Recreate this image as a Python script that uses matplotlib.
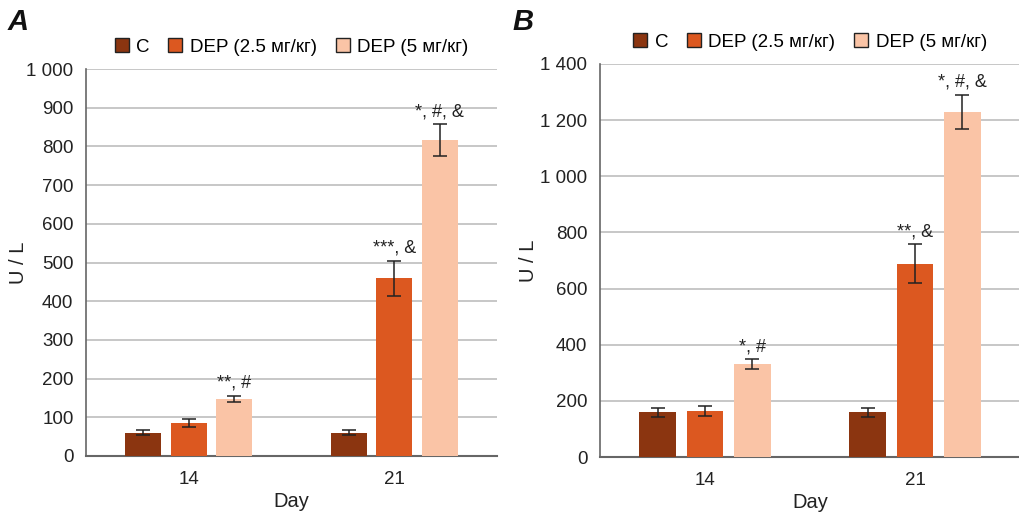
import matplotlib
matplotlib.use("Agg")
import matplotlib.pyplot as plt
from matplotlib.patches import Rectangle
import numpy as np

plt.rcParams['font.family'] = ['Liberation Sans', 'DejaVu Sans']

days = ["14", "21"]
series = ["C", "DEP (2.5 мг/кг)", "DEP (5 мг/кг)"]
colors = ["#8B3510", "#DC5820", "#FAC4A6"]

# Panel A
a_vals = [[60, 60], [86, 459], [148, 817]]
a_err = [[7, 7], [10, 46], [8, 41]]
a_notes = [["", ""], ["", "***, &"], ["**, #", "*, #, &"]]
a_ticks = [0, 100, 200, 300, 400, 500, 600, 700, 800, 900, 1000]
a_ticklabels = ["0", "100", "200", "300", "400", "500", "600", "700", "800", "900", "1 000"]

# Panel B
b_vals = [[160, 160], [163, 689], [330, 1230]]
b_err = [[16, 16], [17, 68], [18, 61]]
b_notes = [["", ""], ["", "**, &"], ["*, #", "*, #, &"]]
b_ticks = [0, 200, 400, 600, 800, 1000, 1200, 1400]
b_ticklabels = ["0", "200", "400", "600", "800", "1 000", "1 200", "1 400"]

fig = plt.figure(figsize=(10.2, 5.13), dpi=100)
axA = fig.add_axes([86/1020, 1-456/513, 411/1020, 387/513])
axB = fig.add_axes([600/1020, 1-457/513, 420/1020, 393/513])


def draw(ax, vals, errs, notes, ticks, ticklabels, ymax, step, note_off):
    x = np.arange(len(days))
    w = 0.176
    for i in range(3):
        pos = x + (i - 1) * step
        ax.bar(pos, vals[i], width=w, color=colors[i], zorder=3)
        ax.errorbar(pos, vals[i], yerr=errs[i], fmt='none', ecolor='#222222',
                    elinewidth=1.1, capsize=5, capthick=1.1, zorder=4)
        for j in range(len(days)):
            if notes[i][j]:
                ax.text(pos[j], vals[i][j] + errs[i][j] + note_off, notes[i][j],
                        ha='center', va='bottom', fontsize=13, color='#222222')
    ax.set_xlim(-0.5, 1.5)
    ax.set_ylim(0, ymax)
    ax.set_yticks(ticks)
    ax.set_yticklabels(ticklabels)
    ax.set_xticks(x)
    ax.set_xticklabels(days)
    ax.tick_params(axis='both', length=0, labelsize=13.5, colors='#222222')
    ax.tick_params(axis='y', pad=9)
    ax.tick_params(axis='x', pad=11)
    ax.yaxis.grid(True, color='#bdbdbd', linewidth=1.2, zorder=0)
    ax.set_axisbelow(True)
    for s in ['top', 'right']:
        ax.spines[s].set_visible(False)
    ax.spines['left'].set_color('#666666')
    ax.spines['bottom'].set_color('#666666')
    ax.spines['left'].set_linewidth(1.2)
    ax.spines['bottom'].set_linewidth(1.5)
    ax.set_xlabel("Day", fontsize=14.5, color='#222222', labelpad=3)
    ax.set_ylabel("U / L", fontsize=14.5, color='#222222')
    handles = [Rectangle((0, 0), 1, 1, facecolor=c, edgecolor='#222222', linewidth=1) for c in colors]
    ax.legend(handles, series, loc='lower center', bbox_to_anchor=(0.5, 1.01), ncol=3,
              frameon=False, fontsize=13.5, handlelength=0.75, handleheight=0.75,
              handletextpad=0.4, columnspacing=1.0, borderaxespad=0.1)


draw(axA, a_vals, a_err, a_notes, a_ticks, a_ticklabels, 1000, 0.222, 10)
draw(axB, b_vals, b_err, b_notes, b_ticks, b_ticklabels, 1400, 0.224, 15)
axA.yaxis.set_label_coords(-0.14, 0.5)
axB.yaxis.set_label_coords(-0.148, 0.5)

fig.text(8/1020, 1-22/513, "A", fontsize=21, fontweight='bold', fontstyle='italic',
         va='center', ha='left', color='#111111')
fig.text(512/1020, 1-22/513, "B", fontsize=21, fontweight='bold', fontstyle='italic',
         va='center', ha='left', color='#111111')

fig.savefig("out.png", dpi=100)
